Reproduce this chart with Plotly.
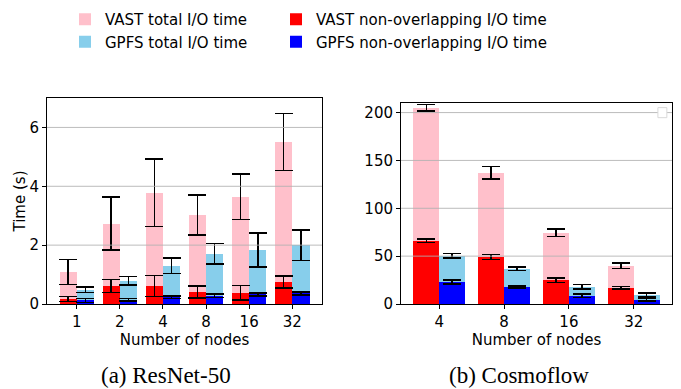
import plotly.graph_objects as go

# ---------------- data ----------------
resnet_nodes = ["1", "2", "4", "8", "16", "32"]
resnet_vast_total = [1.09, 2.73, 3.78, 3.03, 3.65, 5.51]
resnet_vast_total_err = [0.42, 0.90, 1.15, 0.68, 0.77, 0.97]
resnet_vast_nonov = [0.17, 0.61, 0.61, 0.41, 0.38, 0.75]
resnet_vast_nonov_err = [0.08, 0.22, 0.36, 0.20, 0.25, 0.20]
resnet_gpfs_total = [0.48, 0.79, 1.30, 1.71, 1.84, 2.00]
resnet_gpfs_total_err = [0.09, 0.15, 0.26, 0.35, 0.58, 0.52]
resnet_gpfs_nonov = [0.12, 0.14, 0.23, 0.28, 0.33, 0.36]
resnet_gpfs_nonov_err = [0.07, 0.04, 0.05, 0.06, 0.05, 0.05]

cosmo_nodes = ["4", "8", "16", "32"]
cosmo_vast_total = [205.0, 137.0, 74.5, 40.0]
cosmo_vast_total_err = [3.5, 6.6, 3.8, 3.1]
cosmo_vast_nonov = [66.0, 49.0, 25.0, 17.0]
cosmo_vast_nonov_err = [1.9, 2.6, 2.4, 1.4]
cosmo_gpfs_total = [50.5, 36.8, 18.0, 9.4]
cosmo_gpfs_total_err = [2.5, 1.7, 2.4, 2.1]
cosmo_gpfs_nonov = [23.0, 17.8, 8.6, 4.3]
cosmo_gpfs_nonov_err = [1.9, 1.2, 2.0, 1.4]

resnet_yticks = [0, 2, 4, 6]
cosmo_yticks = [0, 50, 100, 150, 200]

series_names = ["VAST total I/O time", "GPFS total I/O time",
                "VAST non-overlapping I/O time", "GPFS non-overlapping I/O time"]
series_colors = ["#FFC0CB", "#87CEEB", "#FF0000", "#0000FF"]

# ---------------- figure ----------------
W, H = 681, 389
FONT = "DejaVu Sans"
fig = go.Figure()

BW = 0.4
offsets = [-BW, 0.0, -BW, 0.0]
legends = ["legend", "legend", "legend2", "legend2"]


def add_panel(nodes, vals_list, errs_list, xa, ya, showlegend):
    for k in range(4):
        fig.add_trace(go.Bar(
            x=nodes, y=vals_list[k], width=BW, offset=offsets[k],
            marker=dict(color=series_colors[k], line=dict(width=0)),
            error_y=dict(type="data", array=errs_list[k], color="black",
                         thickness=1.5, width=9),
            name=series_names[k], legend=legends[k], legendgroup=series_names[k],
            showlegend=showlegend, xaxis=xa, yaxis=ya,
        ))


add_panel(resnet_nodes,
          [resnet_vast_total, resnet_gpfs_total, resnet_vast_nonov, resnet_gpfs_nonov],
          [resnet_vast_total_err, resnet_gpfs_total_err, resnet_vast_nonov_err, resnet_gpfs_nonov_err],
          "x", "y", True)
add_panel(cosmo_nodes,
          [cosmo_vast_total, cosmo_gpfs_total, cosmo_vast_nonov, cosmo_gpfs_nonov],
          [cosmo_vast_total_err, cosmo_gpfs_total_err, cosmo_vast_nonov_err, cosmo_gpfs_nonov_err],
          "x2", "y2", False)

# grid lines drawn above bars (as in matplotlib default)
shapes = []
for v in resnet_yticks[1:]:
    shapes.append(dict(type="line", xref="x domain", yref="y", x0=0, x1=1, y0=v, y1=v,
                       line=dict(color="rgba(176,176,176,0.85)", width=1), layer="above"))
for v in cosmo_yticks[1:]:
    shapes.append(dict(type="line", xref="x2 domain", yref="y2", x0=0, x1=1, y0=v, y1=v,
                       line=dict(color="rgba(176,176,176,0.85)", width=1), layer="above"))
# empty legend box artefact in right panel
shapes.append(dict(type="rect", xref="x2 domain", yref="y2 domain",
                   x0=0.948, x1=0.981, y0=0.927, y1=0.977,
                   line=dict(color="#d9d9d9", width=1), fillcolor="white", layer="above"))

axis_common = dict(showline=True, mirror=True, linecolor="black", linewidth=1,
                   ticks="outside", ticklen=4, tickwidth=1, tickcolor="black",
                   showgrid=False, zeroline=False, layer="above traces", automargin=False,
                   tickfont=dict(family=FONT, size=15, color="black"))

fig.update_layout(
    width=W, height=H, margin=dict(l=0, r=0, t=0, b=0, autoexpand=False),
    paper_bgcolor="white", plot_bgcolor="white",
    barmode="overlay", bargap=0,
    shapes=shapes,
    xaxis=dict(domain=[47 / W, 322 / W], range=[-0.69, 5.69], type="category",
               title=dict(text="Number of nodes", font=dict(family=FONT, size=15, color="black"), standoff=0),
               anchor="y", **axis_common),
    yaxis=dict(domain=[1 - 304 / H, 1 - 98 / H], range=[0, 7], tickvals=resnet_yticks,
               title=dict(text="Time (s)", font=dict(family=FONT, size=15, color="black"), standoff=0),
               anchor="x", **axis_common),
    xaxis2=dict(domain=[401 / W, 672 / W], range=[-0.59, 3.59], type="category",
                title=dict(text="Number of nodes", font=dict(family=FONT, size=15, color="black"), standoff=0),
                anchor="y2", **axis_common),
    yaxis2=dict(domain=[1 - 304 / H, 1 - 103 / H], range=[0, 210], tickvals=cosmo_yticks,
                anchor="x2", **axis_common),
    legend=dict(x=65 / W, y=1 - 3 / H, xanchor="left", yanchor="top", orientation="v",
                font=dict(family=FONT, size=15, color="black"), bgcolor="rgba(0,0,0,0)",
                tracegroupgap=6, traceorder="normal"),
    legend2=dict(x=276 / W, y=1 - 3 / H, xanchor="left", yanchor="top", orientation="v",
                 font=dict(family=FONT, size=15, color="black"), bgcolor="rgba(0,0,0,0)",
                 tracegroupgap=6, traceorder="normal"),
    annotations=[
        dict(text="(a) ResNet-50", xref="paper", yref="paper", x=99 / W, y=1 - 375 / H,
             xanchor="left", yanchor="middle", showarrow=False,
             font=dict(family="Liberation Serif", size=23, color="black")),
        dict(text="(b) Cosmoflow", xref="paper", yref="paper", x=447 / W, y=1 - 375 / H,
             xanchor="left", yanchor="middle", showarrow=False,
             font=dict(family="Liberation Serif", size=23, color="black")),
    ],
)

fig.write_html("out.html", config={"displayModeBar": False},
               post_script="document.body.style.margin='0';document.body.style.overflow='hidden';")
